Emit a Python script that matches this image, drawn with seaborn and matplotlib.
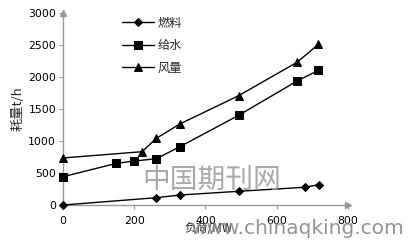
import matplotlib
matplotlib.use("Agg")
import matplotlib.pyplot as plt
import seaborn as sns
import pandas as pd

sns.set_theme(style="white")
plt.rcParams['font.family'] = ['DejaVu Sans', 'Noto Sans CJK SC']

series_names = ["燃料", "给水", "风量"]
fuel_x = [0, 262, 328, 493, 678, 718]
fuel_y = [0, 114, 156, 214, 277, 317]
water_x = [0, 150, 200, 262, 328, 493, 657, 717]
water_y = [442, 651, 687, 723, 911, 1401, 1937, 2104]
air_x = [0, 222, 262, 328, 493, 657, 717]
air_y = [735, 833, 1042, 1266, 1708, 2230, 2511]
x_ticks = [0, 200, 400, 600, 800]
y_ticks = [0, 500, 1000, 1500, 2000, 2500, 3000]
x_label = "负荷/MW"
y_label = "耗量t/h"

df = pd.concat([
    pd.DataFrame({"x": fuel_x, "y": fuel_y, "s": series_names[0]}),
    pd.DataFrame({"x": water_x, "y": water_y, "s": series_names[1]}),
    pd.DataFrame({"x": air_x, "y": air_y, "s": series_names[2]}),
], ignore_index=True)

fig = plt.figure(figsize=(4.18, 2.42), dpi=100)
ax = fig.add_axes([63/418, 1-205/242, (348-63)/418, (205-13)/242])

markers = {series_names[0]: "D", series_names[1]: "s", series_names[2]: "^"}
sizes_m = {series_names[0]: 4.0, series_names[1]: 5.5, series_names[2]: 5.8}
for name in series_names:
    sub = df[df["s"] == name]
    sns.lineplot(data=sub, x="x", y="y", ax=ax, color="black", linewidth=1.0,
                 marker=markers[name], markersize=sizes_m[name],
                 markeredgecolor="black", markerfacecolor="black",
                 label=name, clip_on=False, zorder=3, sort=False)

ax.set_xlim(0, 800)
ax.set_ylim(0, 3000)
ax.set_xticks(x_ticks)
ax.set_yticks(y_ticks)
ax.tick_params(axis="both", labelsize=7.8, colors="#999999", labelcolor="black",
               length=3, width=0.8, direction="out", bottom=True, left=True, pad=2)
ax.tick_params(axis="x", pad=5)
for sp in ["top", "right"]:
    ax.spines[sp].set_visible(False)
for sp in ["left", "bottom"]:
    ax.spines[sp].set_color("#999999")
    ax.spines[sp].set_linewidth(1.0)
ax.plot(1, 0, ">", color="#999999", markersize=5, transform=ax.transAxes, clip_on=False)
ax.plot(0, 1, "^", color="#999999", markersize=5, transform=ax.transAxes, clip_on=False)

ax.set_xlabel("")
ax.set_ylabel("")
fig.text(18/418, 1-109/242, y_label, rotation=90, ha="center", va="center",
         fontsize=9.5, family=['Noto Sans CJK SC', 'DejaVu Sans'])
fig.text(208/418, 1-229/242, x_label, ha="center", va="center",
         fontsize=8.5, family=['Noto Sans CJK SC', 'DejaVu Sans'])

leg = ax.legend(loc="upper left", bbox_to_anchor=(52/285, 1.019), frameon=False,
                prop={"family": ['Noto Sans CJK SC'], "size": 8.8},
                handlelength=2.6, handletextpad=0.3, labelspacing=0.78,
                borderaxespad=0.2)

# site watermark
fig.text(212/418, 1-180/242, "中国期刊网", ha="center", va="center", fontsize=20,
         color="#9a9a9a", alpha=0.85, family=['Noto Sans CJK SC'])
fig.text(190/418, 1-229/242, "www.chinaqking.com", ha="left", va="center",
         fontsize=14.5, color="#888888", alpha=0.9, family=['DejaVu Sans'])

fig.savefig("out.png", dpi=100)
